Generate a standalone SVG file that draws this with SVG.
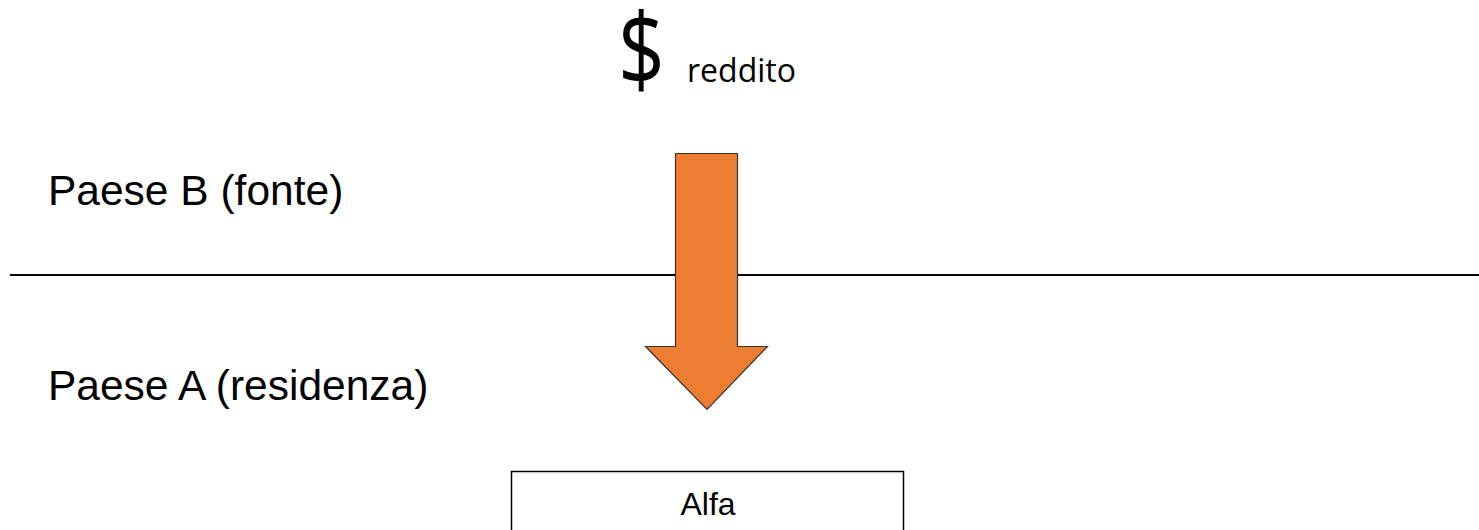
<svg xmlns="http://www.w3.org/2000/svg" width="1479" height="530" viewBox="0 0 1479 530">
<style>
.lbl{font-family:"Liberation Sans",Arial,sans-serif;fill:#000}
.cal{font-family:"Open Sans","Noto Sans",sans-serif;fill:#000}
</style>
<rect width="1479" height="530" fill="#fff"/>
<g id="connectors">
<line x1="10" y1="275" x2="1479" y2="275" stroke="#000" stroke-width="2"/>
</g>
<g id="income">
<text class="cal" font-size="100" transform="translate(618,86) scale(0.82,1)">$</text>
<text class="cal" x="687" y="82" font-size="32">reddito</text>
</g>
<g id="arrow">
<path d="M675.5,153.5 H737.5 V346.5 H767.5 L707,409.5 L645.5,346.5 H675.5 Z" fill="#ED7D31" stroke="#333" stroke-width="1.2"/>
</g>
<g id="paeseB"><text class="lbl" x="48" y="205" font-size="42.5">Paese B (fonte)</text></g>
<g id="paeseA"><text class="lbl" x="48" y="400" font-size="42.5">Paese A (residenza)</text></g>
<g id="alfa">
<rect x="511.5" y="471.5" width="392" height="80" fill="#fff" stroke="#000" stroke-width="1.5"/>
<text class="lbl" x="708" y="515" font-size="32" text-anchor="middle">Alfa</text>
</g>
</svg>
